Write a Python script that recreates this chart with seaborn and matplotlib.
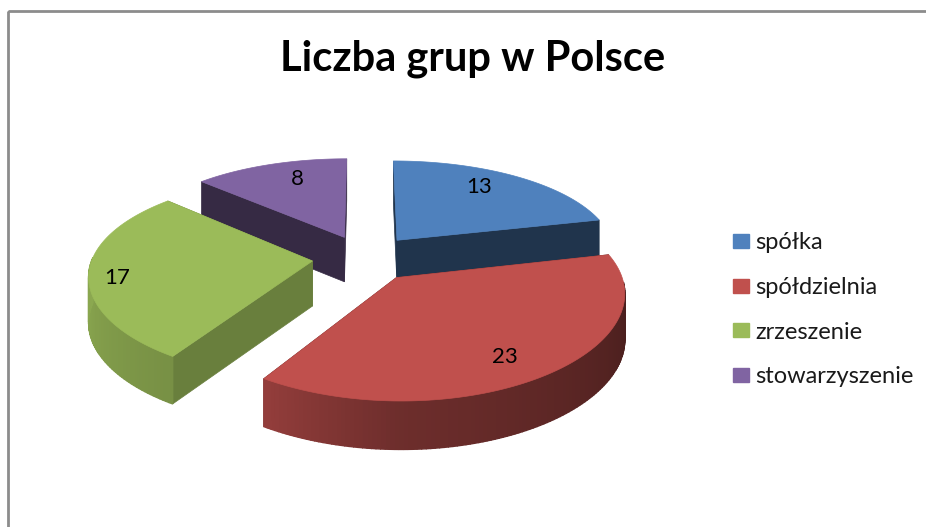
import numpy as np
import seaborn as sns
import matplotlib.pyplot as plt
from matplotlib.patches import Patch, Rectangle
from matplotlib.colors import to_rgb

categories = ['spółka', 'spółdzielnia', 'zrzeszenie', 'stowarzyszenie']
values = [13, 23, 17, 8]
title = 'Liczba grup w Polsce'
base_colors = ['#4f81bd', '#c0504d', '#9bbb59', '#8064a2']
face_shade = [0.40, 0.40, 0.68, 0.42]

sns.set_theme(style='white')
plt.rcParams['font.family'] = ['Lato', 'DejaVu Sans']
palette = sns.color_palette(base_colors)

# perspective used by the 3d pie, in pixels of the picture
CX, CY = 365, 258
A, B, KX, KY, KZ, DEPTH = 220, 97, 0.13, 0.158, 0.06, 45
EXPLODE = 0.24


def project(x, y, z=0.0):
    return CX + A * x / (1 + KX * y), CY - B * y / (1 + KY * y) + DEPTH * z / (1 + KZ * y)


def shade(color, f):
    return tuple(np.clip(np.array(to_rgb(color)) * f, 0, 1))


def arc_shade(deg):
    return np.interp(deg, [100, 180, 212, 270], [0.385, 0.57, 0.77, 0.90])


def draw_slice(ax, start, end, color, dark):
    rad_mid = np.radians((start + end) / 2)
    ox, oy = EXPLODE * np.sin(rad_mid), EXPLODE * np.cos(rad_mid)
    deg = np.linspace(start, end, int(end - start) + 2)
    px = ox + np.sin(np.radians(deg))
    py = oy + np.cos(np.radians(deg))

    # the two cut faces
    for i in (0, -1):
        sx = [ox, px[i], px[i], ox]
        sy = [oy, py[i], py[i], oy]
        sz = [0, 0, 1, 1]
        xs, ys = project(np.array(sx), np.array(sy), np.array(sz))
        ax.fill(xs, ys, color=shade(color, dark), lw=0.5, zorder=1)

    # outer wall, only the part looking at us
    for j in range(len(deg) - 1):
        if not 92 < deg[j] < 272:
            continue
        x0, y0 = px[j:j + 2], py[j:j + 2]
        xs = np.r_[x0, x0[::-1]]
        ys = np.r_[y0, y0[::-1]]
        zs = np.array([0, 0, 1, 1])
        qx, qy = project(xs, ys, zs)
        ax.fill(qx, qy, color=shade(color, arc_shade(deg[j])), lw=1.0, zorder=1)

    # top
    tx, ty = project(np.r_[ox, px], np.r_[oy, py])
    ax.fill(tx, ty, color=color, lw=0.5, zorder=1)


fig = plt.figure(figsize=(9.26, 5.27), dpi=100)
ax = fig.add_axes([0, 0, 1, 1])
ax.set_xlim(0, 926)
ax.set_ylim(527, 0)
ax.axis('off')

ax.add_patch(Rectangle((7.5, 10.5), 1000, 600, fill=False, ec='#8c8c8c', lw=2, zorder=0))

edges = np.r_[0, np.cumsum(values)] * 360.0 / sum(values)
# far slices first so the near ones cover them
for i in [3, 0, 2, 1]:
    draw_slice(ax, edges[i], edges[i + 1], palette[i], face_shade[i])

label_xy = [(479, 187), (505, 357), (117, 278), (297, 179)]
for v, (lx, ly) in zip(values, label_xy):
    ax.text(lx, ly, str(v), ha='center', va='center', fontsize=16, color='black', zorder=3)

ax.text(473, 59, title, ha='center', va='center', fontsize=30, fontweight='bold', color='black')

handles = [Patch(color=c, label=n) for c, n in zip(palette, categories)]
ax.legend(handles=handles, loc='center left', bbox_to_anchor=(0.7916, 0.412), frameon=False,
          fontsize=17, handlelength=0.68, handleheight=0.55, handletextpad=0.25,
          labelspacing=1.0, borderpad=0, borderaxespad=0, labelcolor='#1a1a1a')

plt.savefig('out.png', dpi=100)
